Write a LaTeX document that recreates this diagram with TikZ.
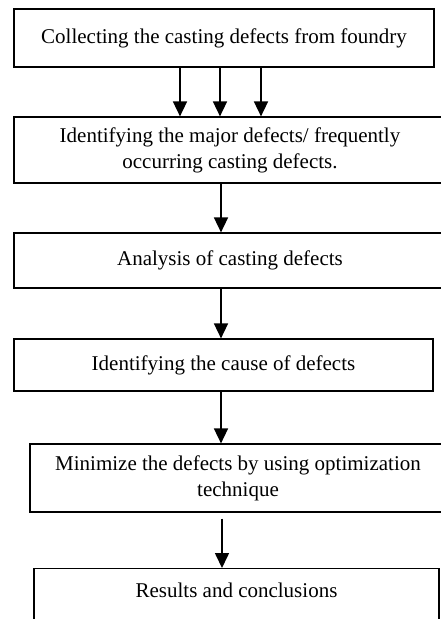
\documentclass[tikz,border=0pt]{standalone}
\usepackage{fontspec}
\setmainfont{Liberation Serif}
\usetikzlibrary{arrows.meta}
\begin{document}
\begin{tikzpicture}[
    x=1pt, y=-1pt,
    every node/.style={
    font=\fontsize{21}{26}\selectfont},
    stepbox/.style={draw, line width=1.2pt, inner sep=0pt, align=center},
    flow/.style={line width=1.6pt, -{Triangle[width=14pt,length=15pt]}}]
    \useasboundingbox (0,0) rectangle (441,619);
    \clip (0,0) rectangle (441,619);

    \node[stepbox, minimum width=420pt, minimum height=58pt] (collect) at (224,38)
        {Collecting the casting defects from foundry};
    \node[stepbox, minimum width=432pt, minimum height=66pt] (major) at (230,150)
        {Identifying the major defects/ frequently\\occurring casting defects.};
    \node[stepbox, minimum width=432pt, minimum height=55pt] (analysis) at (230,260.5)
        {Analysis of casting defects};
    \node[stepbox, minimum width=419pt, minimum height=52pt] (cause) at (223.5,365)
        {Identifying the cause of defects};
    \node[stepbox, minimum width=416pt, minimum height=68pt] (minimize) at (238,478)
        {Minimize the defects by using optimization\\technique};
    \node[stepbox, minimum width=405pt, anchor=north, text height=29pt, text depth=34pt] (results) at (236.5,568)
        {Results and conclusions};

    % arrows
    \foreach \dx in {-44,-4,37}
        \draw[flow] ([xshift=\dx pt]collect.south) -- ([xshift=\dx pt]collect.south |- major.north);
    \draw[flow] (major.south -| 221,0) -- (analysis.north -| 221,0);
    \draw[flow] (analysis.south -| 221,0) -- (cause.north -| 221,0);
    \draw[flow] (cause.south -| 221,0) -- (minimize.north -| 221,0);
    \draw[flow] ([yshift=-6pt]minimize.south -| 222,0) -- (results.north -| 222,0);
\end{tikzpicture}
\end{document}
